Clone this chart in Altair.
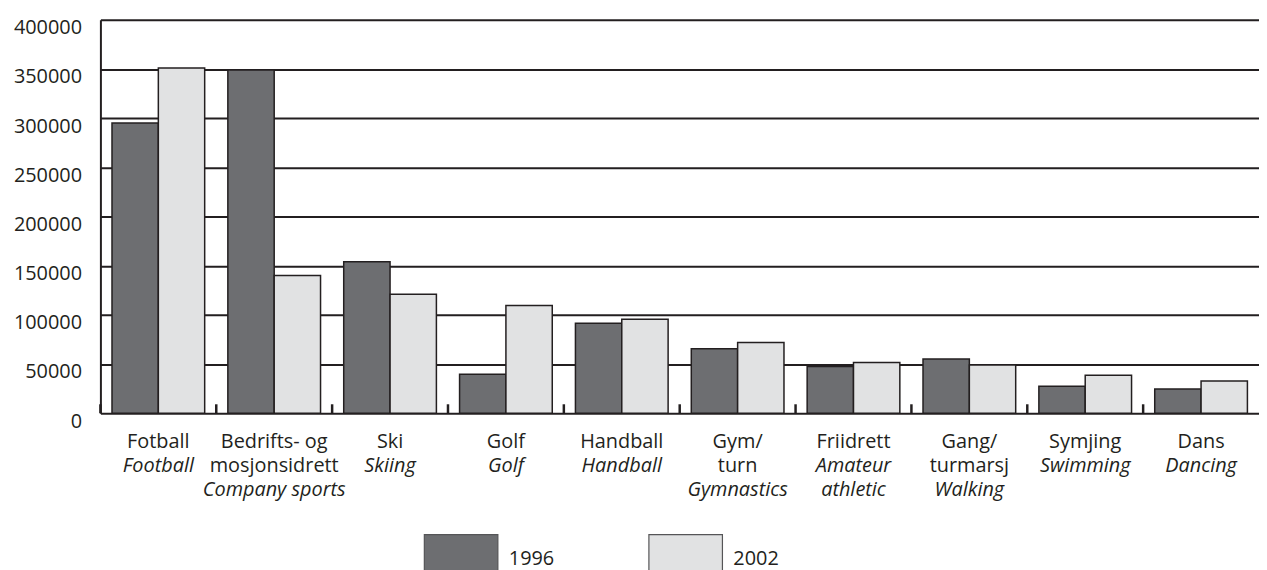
import altair as alt

# ---- data ----
cats = ["Fotball", "Bedrifts- og mosjonsidrett", "Ski", "Golf", "Handball",
        "Gym/turn", "Friidrett", "Gang/turmarsj", "Symjing", "Dans"]
nor_lines = [["Fotball"], ["Bedrifts- og", "mosjonsidrett"], ["Ski"], ["Golf"], ["Handball"],
             ["Gym/", "turn"], ["Friidrett"], ["Gang/", "turmarsj"], ["Symjing"], ["Dans"]]
eng_lines = [["Football"], ["Company sports"], ["Skiing"], ["Golf"], ["Handball"],
             ["Gymnastics"], ["Amateur", "athletic"], ["Walking"], ["Swimming"], ["Dancing"]]
years = ["1996", "2002"]
v1996 = [295000, 349000, 154000, 39500, 91500, 65500, 47500, 55000, 27500, 24700]
v2002 = [351000, 140000, 121000, 109500, 95500, 72000, 51500, 49000, 38500, 32800]
y_ticks = [0, 50000, 100000, 150000, 200000, 250000, 300000, 350000, 400000]

# ---- styling ----
W, H = 1166, 396
STEP = W / len(cats)
INK = "#231f20"
FONT = "Open Sans"
FW = 500
FS = 20
LH = 24
BASE = H + 35.3

bar_rows = []
for i, c in enumerate(cats):
    bar_rows.append({"cat": c, "year": years[0], "value": v1996[i]})
    bar_rows.append({"cat": c, "year": years[1], "value": v2002[i]})

label_rows = []
for i, c in enumerate(cats):
    label_rows.append({"cat": c, "nor": nor_lines[i], "eng": eng_lines[i],
                       "n": len(nor_lines[i])})

tick_rows = [{"cat": c} for c in cats]

xscale = alt.Scale(domain=cats, paddingInner=0.2, paddingOuter=0.1)

bars = alt.Chart(alt.Data(values=bar_rows)).mark_bar(
    stroke=INK, strokeWidth=1.5
).encode(
    x=alt.X("cat:N", sort=cats, scale=xscale,
            axis=alt.Axis(title=None, labels=False, ticks=False, grid=False,
                          domain=True, domainColor=INK, domainWidth=3)),
    xOffset=alt.XOffset("year:N", sort=years),
    y=alt.Y("value:Q", scale=alt.Scale(domain=[0, 400000], nice=False),
            axis=alt.Axis(title=None, values=y_ticks, format="d",
                          grid=True, gridColor=INK, gridWidth=2, gridOpacity=1,
                          ticks=False, tickSize=0, labelPadding=19, labelOffset=8,
                          labelFont=FONT, labelFontSize=FS, labelFontWeight=FW,
                          labelColor=INK,
                          domain=True, domainColor=INK, domainWidth=2)),
    color=alt.Color("year:N", sort=years,
                    scale=alt.Scale(domain=years, range=["#6d6e71", "#e1e2e3"]),
                    legend=alt.Legend(title=None, orient="none", legendX=325, legendY=504,
                                      direction="horizontal",
                                      symbolType="M-1,-0.65H1V0.65H-1Z", symbolSize=5476,
                                      symbolStrokeColor="#555557", symbolStrokeWidth=1.2,
                                      symbolOpacity=1,
                                      labelFont=FONT, labelFontSize=FS, labelFontWeight=FW,
                                      labelColor=INK,
                                      labelOffset=10, columnPadding=92, padding=0)),
)

ticks = alt.Chart(alt.Data(values=tick_rows)).mark_rule(
    color=INK, strokeWidth=2.5, xOffset=-0.1 * STEP
).encode(
    x=alt.X("cat:N", sort=cats, bandPosition=0, axis=None),
    y=alt.value(H),
    y2=alt.value(H - 9),
)

nor = alt.Chart(alt.Data(values=label_rows)).mark_text(
    font=FONT, fontSize=FS, fontWeight=FW, lineHeight=LH, baseline="alphabetic",
    align="center", color=INK
).encode(
    x=alt.X("cat:N", sort=cats, axis=None),
    y=alt.value(BASE),
    text="nor:N",
)

def eng_layer(n):
    return alt.Chart(alt.Data(values=label_rows)).transform_filter(
        alt.datum.n == n
    ).mark_text(
        font=FONT, fontSize=FS, fontWeight=FW, fontStyle="italic", lineHeight=LH,
        baseline="alphabetic", align="center", color=INK
    ).encode(
        x=alt.X("cat:N", sort=cats, axis=None),
        y=alt.value(BASE + LH * n),
        text="eng:N",
    )

chart = alt.layer(bars, ticks, nor, eng_layer(1), eng_layer(2)).properties(
    width=W, height=H,
    autosize=alt.AutoSizeParams(type="none"),
    padding={"left": 93, "top": 10, "right": 0, "bottom": 160},
).configure_view(stroke="transparent")

chart.save("out.html", embed_options={"renderer": "svg", "actions": False})
